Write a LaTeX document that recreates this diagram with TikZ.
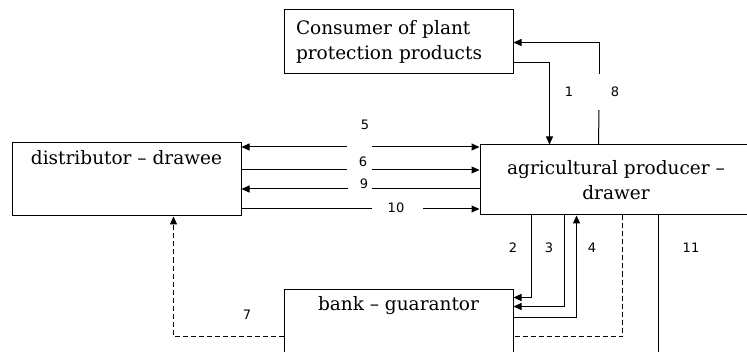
\documentclass[tikz,border=0pt]{standalone}
\usepackage{fontspec}
\setmainfont{DejaVu Serif}
\newfontfamily\numfont{DejaVu Sans}
\usetikzlibrary{arrows.meta}

\begin{document}
\begin{tikzpicture}[x=1pt,y=1pt,line width=1pt,
	box/.style = {draw, inner sep=0pt, font=\fontsize{18.5}{25}\selectfont},
	num/.style = {font=\numfont\fontsize{13}{15}\selectfont, inner sep=0pt},
	arr/.style = {-{Triangle[length=8pt,width=7pt]}},
	dsh/.style = {dash pattern=on 5pt off 3pt}]
	\clip (0,0) rectangle (747,351);
	% boxes
	\node[box, minimum height=64pt, text width=205pt, inner xsep=12pt, align=left] (consumer) at (398.5,309) {Consumer of plant\\protection products};
	\node[box, minimum width=272pt, minimum height=70pt, align=center] (producer) at (616,171) {agricultural producer --\\drawer};
	\node[box, minimum width=229pt, minimum height=73pt,
		label={[font=\fontsize{18.5}{25}\selectfont, anchor=north, yshift=-4pt]north:distributor -- drawee}] (distributor) at (126.5,171.5) {};
	\node[box, minimum width=229pt, minimum height=82pt,
		label={[font=\fontsize{18.5}{25}\selectfont, anchor=north, yshift=-4pt]north:bank -- guarantor}] (bank) at (398.5,21) {};
	% numbers
	\node[num] (n1) at (569,259) {1};
	\node[num] (n8) at (615,259) {8};
	\node[num] (n5) at (365,226) {5};
	\node[num] (n6) at (363,189) {6};
	\node[num] (n9) at (364,167) {9};
	\node[num] (n10) at (396,143) {10};
	\node[num] (n2) at (513,103) {2};
	\node[num] (n3) at (549,103) {3};
	\node[num] (n4) at (592,103) {4};
	\node[num] (n11) at (691,103) {11};
	\node[num] (n7) at (247,36) {7};
	% gaps in the lines
	\coordinate (g5w) at (347,204);
	\coordinate (g5e) at (372,204);
	\coordinate (g6w) at (347,181);
	\coordinate (g6e) at (372,181);
	\coordinate (g9w) at (348,162);
	\coordinate (g9e) at (372,162);
	\coordinate (g10w) at (372,142);
	\coordinate (g10e) at (423,142);
	\coordinate (g8b) at (599,241);
	\coordinate (g8t) at (599,277);
	% connectors
	\draw[arr] ([yshift=12pt]consumer.south east) -| ([xshift=70pt]producer.north west);
	\draw ([xshift=119pt]producer.north west) -- (g8b);
	\draw[arr] (g8t) |- ([yshift=-33pt]consumer.north east);
	\draw[arr] (g5w) -- (distributor.east |- g5w);
	\draw[arr] (g5e) -- (producer.west |- g5e);
	\draw (distributor.east |- g6w) -- (g6w);
	\draw[arr] (g6e) -- (producer.west |- g6e);
	\draw[arr] (g9w) -- (distributor.east |- g9w);
	\draw (producer.west |- g9e) -- (g9e);
	\draw (distributor.east |- g10w) -- (g10w);
	\draw[arr] (g10e) -- (producer.west |- g10e);
	\draw[arr] ([xshift=52pt]producer.south west) |- ([yshift=-9pt]bank.north east);
	\draw[arr] ([xshift=85pt]producer.south west) |- ([yshift=-18pt]bank.north east);
	\draw[arr] ([yshift=-29pt]bank.north east) -| ([xshift=97pt]producer.south west);
	\draw[dsh] ([xshift=143pt]producer.south west) |- ([yshift=-48pt]bank.north east);
	\draw ([xshift=179pt]producer.south west) -- ++(0,-160);
	\draw[dsh, arr] ([yshift=-48pt]bank.north west) -| ([xshift=162pt]distributor.south west);
\end{tikzpicture}
\end{document}
